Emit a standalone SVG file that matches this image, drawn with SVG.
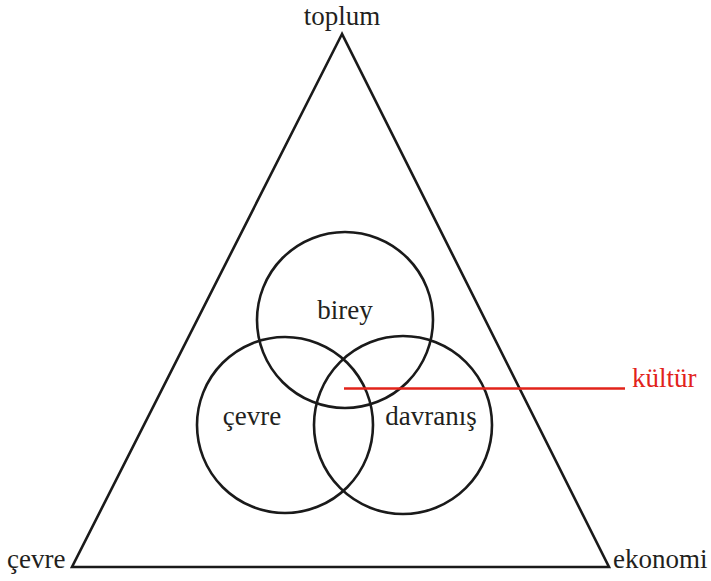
<svg xmlns="http://www.w3.org/2000/svg" width="711" height="581" viewBox="0 0 711 581">
<style>
.t{font-family:"Liberation Serif","Times New Roman",serif;font-size:27px;fill:#231f20}
.s{fill:none;stroke:#1a1a1a;stroke-width:2.6}
</style>
<rect width="711" height="581" fill="#fff"/>
<g id="triangle"><polygon class="s" points="342,34 72,567 609,567"/></g>
<g id="label-toplum"><text class="t" x="342" y="25" text-anchor="middle">toplum</text></g>
<g id="label-cevre-corner"><text class="t" x="7" y="568">çevre</text></g>
<g id="label-ekonomi"><text class="t" x="613" y="568">ekonomi</text></g>
<g id="birey"><circle class="s" cx="345" cy="320" r="88"/><text class="t" x="345" y="319" text-anchor="middle">birey</text></g>
<g id="cevre"><circle class="s" cx="285" cy="425" r="88"/><text class="t" x="252" y="425" text-anchor="middle">çevre</text></g>
<g id="davranis"><circle class="s" cx="403" cy="425" r="89"/><text class="t" x="431" y="425" text-anchor="middle">davranış</text></g>
<g id="connectors"><line x1="344" y1="388.5" x2="625" y2="388.5" stroke="#e2231a" stroke-width="2.6"/></g>
<g id="kultur"><text class="t" x="632" y="387" style="fill:#e2231a">kültür</text></g>
</svg>
